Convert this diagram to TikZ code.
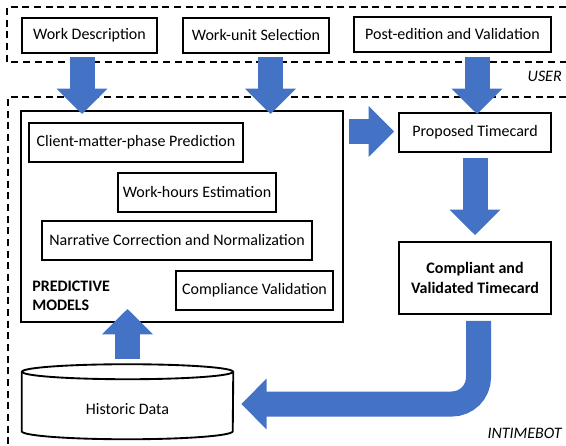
\documentclass[tikz,border=0pt]{standalone}
\usepackage{fontspec}
\setmainfont{Carlito}
\usetikzlibrary{arrows.meta,calc}
\definecolor{officeblue}{HTML}{4472C4}
\newcommand{\diagfont}{\fontsize{12}{14.5}\selectfont}

\begin{document}
\begin{tikzpicture}[x=0.75pt, y=-0.75pt, font=\diagfont]
    \tikzstyle{box}=[rectangle,draw,line width=1.4pt,fill=white,align=center,inner sep=0pt]
    \tikzstyle{frame}=[line width=1.1pt,dash pattern=on 5.25pt off 3.5pt]
    \tikzstyle{bigarrow}=[officeblue,line width=18.75pt,-{Triangle[width=37pt,length=19pt]}]
    \useasboundingbox (0,0) rectangle (566,445);
    \draw[frame] (566,7) -- (7,7) -- (7,62) -- (566,62);
    \draw[frame] (566,97) -- (8,97) -- (8,445);
    \node[anchor=east,inner sep=0pt,font=\diagfont\itshape] (userlbl) at (562,76) {USER};
    \node[anchor=east,inner sep=0pt,font=\diagfont\itshape] (botlbl) at (562,433) {INTIMEBOT};
    \node[box,minimum width=101.25pt,minimum height=26.25pt] (wdesc) at (89.5,35.5) {Work Description};
    \node[box,minimum width=109.5pt,minimum height=26.25pt] (wunit) at (256,35.5) {Work-unit Selection};
    \node[box,minimum width=147.75pt,minimum height=26.25pt] (postedit) at (452.5,34.5) {Post-edition and Validation};
    \node[box,minimum width=241.5pt,minimum height=158.25pt] (models) at (182,216.5) {};
    \node[box,minimum width=160.5pt,minimum height=29.25pt] (cmpred) at (136,142.5) {Client-matter-phase Prediction};
    \node[box,minimum width=118.5pt,minimum height=29.25pt] (whours) at (197,192.5) {Work-hours Estimation};
    \node[box,minimum width=202.5pt,minimum height=29.25pt] (narrative) at (177,240.5) {Narrative Correction and Normalization};
    \node[box,minimum width=117.75pt,minimum height=29.25pt] (compliance) at (254.5,290.5) {Compliance Validation};
    \node[anchor=west,align=left,inner sep=0pt,font=\diagfont\bfseries] (modelslbl) at (32,296) {PREDICTIVE\\MODELS};
    \node[box,minimum width=114pt,minimum height=29.25pt] (proposed) at (475,132.5) {Proposed Timecard};
    \node[box,minimum width=114pt,minimum height=54pt,font=\fontsize{12}{15}\selectfont\bfseries] (compliant) at (475,278) {Compliant and\\Validated Timecard};
    \node[minimum width=158.25pt,minimum height=45pt] (historic) at (127.5,409) {Historic Data};
    \draw[line width=1.4pt] ($(historic.north west)+(0,-7)$) -- ($(historic.south west)+(0,-8)$) arc[start angle=180,end angle=0,x radius=105.5,y radius=8] -- ($(historic.north east)+(0,-7)$);
    \draw[line width=1.4pt,fill=white] ($(historic.north)+(0,-7)$) ellipse [x radius=105.5,y radius=7.5];
    \draw[bigarrow] ($(wdesc.south)+(-7.5,3)$) -- ($(wdesc.south |- models.north)+(-7.5,4)$);
    \draw[bigarrow] ($(wunit.south)+(14.5,3)$) -- ($(wunit.south |- models.north)+(14.5,4)$);
    \draw[bigarrow] ($(proposed.north |- postedit.south)+(2,4)$) -- ($(proposed.north)+(2,2)$);
    \draw[bigarrow] ($(models.east |- proposed.west)+(5,-1)$) -- ($(proposed.west)+(-4,-1)$);
    \draw[bigarrow] ($(proposed.south)+(0,5)$) -- ($(compliant.north)+(0,-6)$);
    \draw[bigarrow,rounded corners=20pt] ($(compliant.south)+(3.5,6)$) |- ($(historic.east)+(8,-5)$);
    \draw[bigarrow] ($(historic.north)+(0,-20)$) -- ($(historic.north |- models.south)+(0,-14)$);
\end{tikzpicture}
\end{document}
